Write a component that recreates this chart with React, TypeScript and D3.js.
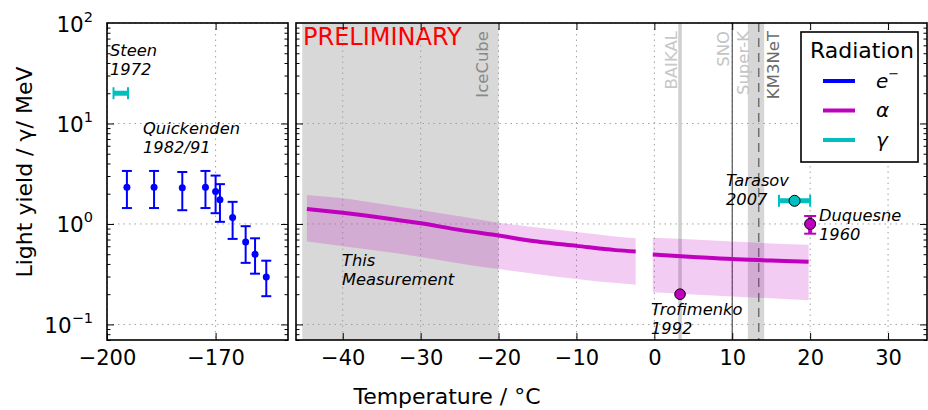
import { useEffect, useRef } from 'react'
import * as d3 from 'd3'

// Quickenden 1982/91, electrons (left panel)
const quickT = [-194.5, -187, -179.2, -172.8, -170, -168.8, -165.3, -161.7, -159.1, -156]
const quickY = [2.32, 2.32, 2.29, 2.32, 2.1, 1.74, 1.16, 0.66, 0.5, 0.296]
const quickErrHi = [1.05, 1.05, 1.0, 1.05, 0.93, 0.75, 0.5, 0.29, 0.22, 0.135]
const quickErrLo = [0.88, 0.88, 0.92, 0.88, 0.82, 0.69, 0.45, 0.25, 0.18, 0.105]

// this measurement, alpha (two temperature ranges)
const measT1 = [-44.6, -40, -35, -30, -25, -20, -15, -10, -5, -2.4]
const measY1 = [1.41, 1.29, 1.155, 1.016, 0.873, 0.766, 0.668, 0.605, 0.549, 0.532]
const measHi1 = [1.94, 1.8, 1.58, 1.38, 1.19, 1.03, 0.92, 0.83, 0.75, 0.72]
const measLo1 = [0.668, 0.6, 0.535, 0.47, 0.405, 0.356, 0.315, 0.283, 0.258, 0.249]
const measT2 = [-0.2, 5, 10, 15, 19.8]
const measY2 = [0.497, 0.47, 0.447, 0.433, 0.42]
const measHi2 = [0.727, 0.7, 0.668, 0.64, 0.62]
const measLo2 = [0.209, 0.199, 0.19, 0.182, 0.174]

// other measurements
const steen = { t: -196.2, tErr: 2, y: 20 }
const tarasov = { t: 18, tErr: 2, y: 1.7 }
const duquesne = { t: 20, y: 1.0, yErr: 0.2 }
const trofimenko = { t: 3.3, y: 0.2 }

// detector temperatures
const iceCubeRange = [-45.2, -20]
const baikalT = 3.3
const snoT = 10
const superKRange = [12, 14.1]
const km3netT = 13.4

const legendLabels = ['e', 'α', 'γ']
const blue = '#0000ff'
const magenta = '#bf00bf'
const cyan = '#00bfbf'
const legendColors = [blue, magenta, cyan]

const font = 'DejaVu Sans, sans-serif'

const Chart = () => {
  const ref = useRef<SVGSVGElement>(null)

  const draw = () => {
    const svg = d3.select(ref.current)
    svg.selectAll('*').remove()

    const top = 23
    const bottom = 340
    const left = { x0: 107, x1: 288 }
    const right = { x0: 296, x1: 927 }

    const y = d3.scaleLog().domain([0.07, 100]).range([bottom, top])
    const xL = d3.scaleLinear().domain([-200, -150]).range([left.x0, left.x1])
    const xR = d3.scaleLinear().domain([-46, 35]).range([right.x0, right.x1])

    const major = [0.1, 1, 10, 100]
    const minor: number[] = []
    ;[0.01, 0.1, 1, 10].forEach(d => {
      for (let k = 2; k <= 9; k++) {
        const v = d * k
        if (v >= 0.07 && v <= 100) minor.push(v)
      }
    })

    const defs = svg.append('defs')
    defs.append('clipPath').attr('id', 'clipR')
      .append('rect').attr('x', right.x0).attr('y', top)
      .attr('width', right.x1 - right.x0).attr('height', bottom - top)

    // ---- right panel background elements
    const gR = svg.append('g').attr('clip-path', 'url(#clipR)')
    gR.append('rect')
      .attr('x', xR(iceCubeRange[0])).attr('y', top)
      .attr('width', xR(iceCubeRange[1]) - xR(iceCubeRange[0]))
      .attr('height', bottom - top)
      .attr('fill', '#d8d8d8')
    gR.append('rect')
      .attr('x', xR(superKRange[0])).attr('y', top)
      .attr('width', xR(superKRange[1]) - xR(superKRange[0]))
      .attr('height', bottom - top)
      .attr('fill', '#d6d6d6')

    // grid
    const grid = (g: any, x: any, ticks: number[], x0: number, x1: number) => {
      ticks.forEach(t => {
        g.append('line').attr('x1', x(t)).attr('x2', x(t)).attr('y1', top).attr('y2', bottom)
          .attr('stroke', '#a0a0a0').attr('stroke-dasharray', '1.5,4').attr('stroke-width', 1)
      })
      major.forEach(v => {
        g.append('line').attr('x1', x0).attr('x2', x1).attr('y1', y(v)).attr('y2', y(v))
          .attr('stroke', '#a0a0a0').attr('stroke-dasharray', '1.5,4').attr('stroke-width', 1)
      })
    }
    const ticksR = [-40, -30, -20, -10, 0, 10, 20, 30]
    const ticksL = [-200, -170]
    grid(svg.append('g'), xL, ticksL, left.x0, left.x1)
    grid(gR.append('g'), xR, ticksR, right.x0, right.x1)

    // detector lines
    gR.append('line').attr('x1', xR(baikalT)).attr('x2', xR(baikalT)).attr('y1', top).attr('y2', bottom)
      .attr('stroke', '#cfcfcf').attr('stroke-width', 3.5)
    gR.append('line').attr('x1', xR(snoT)).attr('x2', xR(snoT)).attr('y1', top).attr('y2', bottom)
      .attr('stroke', '#555').attr('stroke-width', 1.2)
    gR.append('line').attr('x1', xR(km3netT)).attr('x2', xR(km3netT)).attr('y1', top).attr('y2', bottom)
      .attr('stroke', '#707070').attr('stroke-width', 1.5).attr('stroke-dasharray', '9,6')

    // this measurement: band + line
    const segs = [
      { t: measT1, v: measY1, hi: measHi1, lo: measLo1 },
      { t: measT2, v: measY2, hi: measHi2, lo: measLo2 },
    ]
    segs.forEach(s => {
      const idx = d3.range(s.t.length)
      const area = d3.area<number>()
        .x(i => xR(s.t[i]))
        .y0(i => y(s.lo[i]))
        .y1(i => y(s.hi[i]))
        .curve(d3.curveMonotoneX)
      gR.append('path').attr('d', area(idx)).attr('fill', magenta).attr('fill-opacity', 0.2)
      const line = d3.line<number>()
        .x(i => xR(s.t[i]))
        .y(i => y(s.v[i]))
        .curve(d3.curveMonotoneX)
      gR.append('path').attr('d', line(idx)).attr('fill', 'none')
        .attr('stroke', magenta).attr('stroke-width', 4)
    })

    // detector labels
    const vLabel = (t: number, text: string, color: string) => {
      svg.append('text')
        .attr('transform', `translate(${xR(t)},31) rotate(-90)`)
        .attr('text-anchor', 'end')
        .attr('font-family', font).attr('font-size', 16.5)
        .attr('fill', color).text(text)
    }
    vLabel(-21.3, 'IceCube', '#8a8a8a')
    vLabel(2.9, 'BAIKAL', '#c8c8c8')
    vLabel(9.6, 'SNO', '#c4c4c4')
    vLabel(12.1, 'Super-K', '#c4c4c4')
    vLabel(16.0, 'KM3NeT', '#6a6a6a')

    // Quickenden points
    const gQ = svg.append('g')
    quickT.forEach((t, i) => {
      const cx = xL(t)
      const yHi = y(quickY[i] + quickErrHi[i])
      const yLo = y(quickY[i] - quickErrLo[i])
      gQ.append('line').attr('x1', cx).attr('x2', cx).attr('y1', yHi).attr('y2', yLo)
        .attr('stroke', blue).attr('stroke-width', 2)
      ;[yHi, yLo].forEach(yy => {
        gQ.append('line').attr('x1', cx - 5).attr('x2', cx + 5).attr('y1', yy).attr('y2', yy)
          .attr('stroke', blue).attr('stroke-width', 2)
      })
      gQ.append('circle').attr('cx', cx).attr('cy', y(quickY[i])).attr('r', 3.5).attr('fill', blue)
    })

    // horizontal error bar helper
    const hBar = (x: any, p: { t: number; tErr: number; y: number }) => {
      const x0 = x(p.t - p.tErr)
      const x1 = x(p.t + p.tErr)
      const yy = y(p.y)
      svg.append('line').attr('x1', x0).attr('x2', x1).attr('y1', yy).attr('y2', yy)
        .attr('stroke', cyan).attr('stroke-width', 5)
      ;[x0, x1].forEach(xx => {
        svg.append('line').attr('x1', xx).attr('x2', xx).attr('y1', yy - 6).attr('y2', yy + 6)
          .attr('stroke', cyan).attr('stroke-width', 2)
      })
    }
    hBar(xL, steen)
    hBar(xR, tarasov)
    svg.append('circle').attr('cx', xR(tarasov.t)).attr('cy', y(tarasov.y)).attr('r', 5.5)
      .attr('fill', cyan).attr('stroke', '#000').attr('stroke-width', 1)

    // Duquesne
    const dx = xR(duquesne.t)
    const dHi = y(duquesne.y + duquesne.yErr)
    const dLo = y(duquesne.y - duquesne.yErr)
    svg.append('line').attr('x1', dx).attr('x2', dx).attr('y1', dHi).attr('y2', dLo)
      .attr('stroke', magenta).attr('stroke-width', 4)
    ;[dHi, dLo].forEach(yy => {
      svg.append('line').attr('x1', dx - 6).attr('x2', dx + 6).attr('y1', yy).attr('y2', yy)
        .attr('stroke', magenta).attr('stroke-width', 2)
    })
    svg.append('circle').attr('cx', dx).attr('cy', y(duquesne.y)).attr('r', 5.5)
      .attr('fill', magenta).attr('stroke', '#000').attr('stroke-width', 1)

    // Trofimenko
    svg.append('circle').attr('cx', xR(trofimenko.t)).attr('cy', y(trofimenko.y)).attr('r', 5.3)
      .attr('fill', magenta).attr('stroke', '#000').attr('stroke-width', 1)

    // annotations
    const note = (x: number, yy: number, lines: string[]) => {
      const t = svg.append('text').attr('font-family', font).attr('font-size', 16.3)
        .attr('font-style', 'italic').attr('fill', '#000')
      lines.forEach((l, i) => {
        t.append('tspan').attr('x', x).attr('y', yy + i * 19).text(l)
      })
    }
    note(110, 56, ['Steen', '1972'])
    note(143, 134, ['Quickenden', '1982/91'])
    note(342, 266, ['This', 'Measurement'])
    note(651, 315, ['Trofimenko', '1992'])
    note(726, 186, ['Tarasov', '2007'])
    note(819, 221, ['Duquesne', '1960'])

    svg.append('text').attr('x', 303).attr('y', 45)
      .attr('font-family', font).attr('font-size', 24).attr('fill', '#ff0000')
      .text('PRELIMINARY')

    // axes: ticks inward on all sides
    const axes = (x: any, ticks: number[], x0: number, x1: number, showY: boolean) => {
      const g = svg.append('g')
      g.append('g').attr('transform', `translate(0,${bottom})`)
        .call(d3.axisBottom(x).tickValues(ticks).tickSize(-7).tickSizeOuter(0).tickPadding(10))
        .call((a: any) => a.select('.domain').remove())
        .attr('font-family', font).attr('font-size', 21)
      g.append('g').attr('transform', `translate(0,${top})`)
        .call(d3.axisTop(x).tickValues(ticks).tickSize(-7).tickSizeOuter(0).tickFormat(() => ''))
        .call((a: any) => a.select('.domain').remove())
      ;[[x0, 1], [x1, -1]].forEach(([px, dir]) => {
        const axis = dir === 1 ? d3.axisLeft(y) : d3.axisRight(y)
        g.append('g').attr('transform', `translate(${px},0)`)
          .call(axis.tickValues(major.filter(v => v < 100)).tickSize(-7).tickSizeOuter(0).tickFormat(() => ''))
          .call((a: any) => a.select('.domain').remove())
        const axisM = dir === 1 ? d3.axisLeft(y) : d3.axisRight(y)
        g.append('g').attr('transform', `translate(${px},0)`)
          .call(axisM.tickValues(minor).tickSize(-3.5).tickSizeOuter(0).tickFormat(() => ''))
          .call((a: any) => a.select('.domain').remove())
      })
      g.selectAll('line').attr('stroke', '#000').attr('stroke-width', 1)
      g.append('rect').attr('x', x0).attr('y', top).attr('width', x1 - x0).attr('height', bottom - top)
        .attr('fill', 'none').attr('stroke', '#000').attr('stroke-width', 1.6)
      if (showY) {
        const exps = [-1, 0, 1, 2]
        exps.forEach((e, i) => {
          const t = svg.append('text').attr('x', x0 - 14).attr('y', y(major[i]) + 8.5)
            .attr('text-anchor', 'end').attr('font-family', font).attr('font-size', 21.5)
          t.append('tspan').text('10')
          t.append('tspan').attr('font-size', 14.5).attr('dy', -10).text(e < 0 ? '\u2212' + Math.abs(e) : String(e))
        })
      }
    }
    axes(xL, ticksL, left.x0, left.x1, true)
    axes(xR, ticksR, right.x0, right.x1, false)

    // axis titles
    svg.append('text').attr('transform', 'translate(32,172) rotate(-90)')
      .attr('text-anchor', 'middle').attr('font-family', font).attr('font-size', 22)
      .text('Light yield / γ/ MeV')
    svg.append('text').attr('x', 447).attr('y', 404)
      .attr('text-anchor', 'middle').attr('font-family', font).attr('font-size', 22)
      .text('Temperature / °C')

    // legend
    const lg = svg.append('g')
    lg.append('rect').attr('x', 801).attr('y', 32).attr('width', 117).attr('height', 130)
      .attr('fill', '#fff').attr('stroke', '#000').attr('stroke-width', 1.6)
    lg.append('text').attr('x', 862).attr('y', 58).attr('text-anchor', 'middle')
      .attr('font-family', font).attr('font-size', 22).text('Radiation')
    legendLabels.forEach((l, i) => {
      const ly = 81 + i * 29.5
      lg.append('line').attr('x1', 823).attr('x2', 855).attr('y1', ly).attr('y2', ly)
        .attr('stroke', legendColors[i]).attr('stroke-width', 4)
      const t = lg.append('text').attr('x', 876).attr('y', ly + 6.5)
        .attr('font-family', font).attr('font-size', 20).attr('font-style', 'italic').text(l)
      if (i === 0) t.append('tspan').attr('font-size', 13).attr('dy', -10).text('\u2212')
    })
  }

  useEffect(() => {
    draw()
  }, [])

  return <svg ref={ref} width={928} height={410} style={{ position: 'absolute', left: 0, top: 0, background: '#fff' }} />
}

export default function App() {
  return <Chart />
}
